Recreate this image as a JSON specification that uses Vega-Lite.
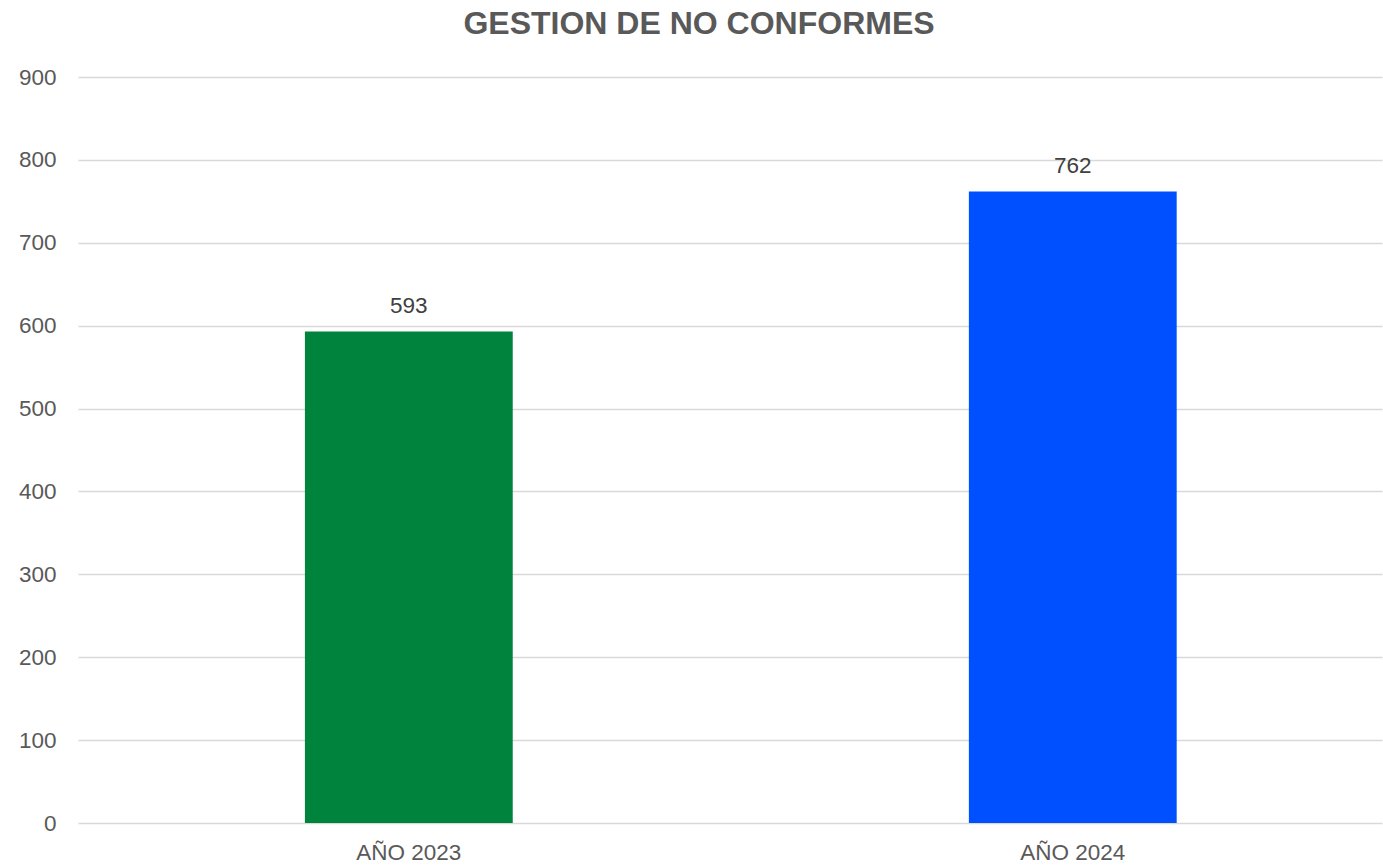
{
  "$schema": "https://vega.github.io/schema/vega-lite/v6.json",
  "autosize": "none",
  "width": 1304,
  "height": 746,
  "padding": {"left": 78, "top": 77, "right": 1, "bottom": 42},
  "background": "white",
  "title": {
    "text": "GESTION DE NO CONFORMES",
    "font": "Liberation Sans",
    "fontSize": 32,
    "fontWeight": "bold",
    "color": "#595959",
    "anchor": "middle",
    "dx": -31,
    "offset": 25
  },
  "data": {
    "values": [
      {"year": "AÑO 2023", "value": 593, "color": "#00843D"},
      {"year": "AÑO 2024", "value": 762, "color": "#0050FF"}
    ]
  },
  "encoding": {
    "x": {
      "field": "year",
      "type": "nominal",
      "sort": null,
      "scale": {"paddingInner": 0.687, "paddingOuter": 0.3255, "align": 0.525},
      "axis": {
        "title": null,
        "labelAngle": 0,
        "domain": false,
        "ticks": false,
        "labelFont": "Liberation Sans",
        "labelFontSize": 22.5,
        "labelColor": "#595959",
        "labelPadding": 18
      }
    },
    "y": {
      "field": "value",
      "type": "quantitative",
      "scale": {"domain": [0, 900], "nice": false},
      "axis": {
        "title": null,
        "values": [0, 100, 200, 300, 400, 500, 600, 700, 800, 900],
        "domain": false,
        "ticks": false,
        "labelFont": "Liberation Sans",
        "labelFontSize": 22.5,
        "labelColor": "#595959",
        "labelPadding": 22,
        "gridColor": "#d9d9d9",
        "gridWidth": 1.5
      }
    }
  },
  "layer": [
    {
      "mark": {"type": "bar"},
      "encoding": {
        "color": {"field": "color", "type": "nominal", "scale": null}
      }
    },
    {
      "mark": {
        "type": "text",
        "baseline": "bottom",
        "dy": -13,
        "font": "Liberation Sans",
        "fontSize": 22.5,
        "color": "#404040"
      },
      "encoding": {
        "text": {"field": "value", "type": "quantitative"}
      }
    }
  ],
  "config": {"view": {"stroke": null}}
}
